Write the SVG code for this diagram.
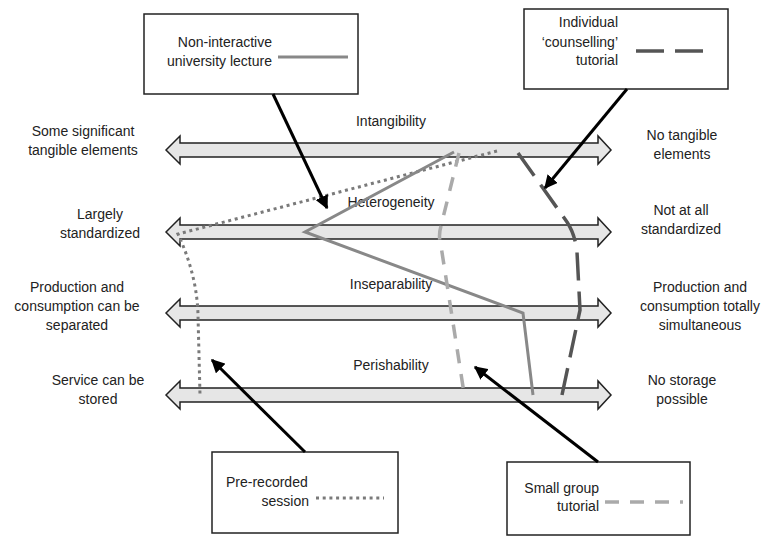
<svg xmlns="http://www.w3.org/2000/svg" width="765" height="540" viewBox="0 0 765 540">
<defs>
<style>
text{font-family:"Liberation Sans",Arial,sans-serif;font-size:14px;fill:#222}
.m{text-anchor:middle}
.e{text-anchor:end}
.box{fill:#fff;stroke:#222;stroke-width:1.5}
.scale{fill:#e6e6e6;stroke:#222;stroke-width:1.5;stroke-linejoin:miter}
.lec{fill:none;stroke:#888;stroke-width:3}
.pre{fill:none;stroke:#7a7a7a;stroke-width:3;stroke-dasharray:3 3.7}
.sg{fill:none;stroke:#aaa;stroke-width:3.5;stroke-dasharray:14 11}
.ind{fill:none;stroke:#555;stroke-width:3.5;stroke-dasharray:28 11}
.conn{fill:none;stroke:#000;stroke-width:3}
</style>
<marker id="ah" viewBox="0 0 10 10" refX="9" refY="5" markerWidth="4.5" markerHeight="4.5" orient="auto">
<path d="M0,0 L10,5 L0,10 Z" fill="#000"/>
</marker>
</defs>
<rect width="765" height="540" fill="#fff"/>

<g id="scale-intangibility">
<path class="scale" d="M166,150 L180,136 L180,143 L598,143 L598,136 L611,150 L598,164 L598,157 L180,157 L180,164 Z"/>
<text class="m" x="391" y="126">Intangibility</text>
<text class="m" x="83" y="136">Some significant</text>
<text class="m" x="83" y="155">tangible elements</text>
<text class="m" x="682" y="140">No tangible</text>
<text class="m" x="682" y="159">elements</text>
</g>
<g id="scale-heterogeneity">
<path class="scale" d="M166,232 L180,218 L180,225 L598,225 L598,218 L611,232 L598,246 L598,239 L180,239 L180,246 Z"/>
<text class="m" x="391" y="207">Heterogeneity</text>
<text class="m" x="100" y="219">Largely</text>
<text class="m" x="100" y="238">standardized</text>
<text class="m" x="681" y="215">Not at all</text>
<text class="m" x="681" y="234">standardized</text>
</g>
<g id="scale-inseparability">
<path class="scale" d="M166,313 L180,299 L180,306 L598,306 L598,299 L611,313 L598,327 L598,320 L180,320 L180,327 Z"/>
<text class="m" x="391" y="289">Inseparability</text>
<text class="m" x="77" y="292">Production and</text>
<text class="m" x="77" y="311">consumption can be</text>
<text class="m" x="77" y="330">separated</text>
<text class="m" x="700" y="292">Production and</text>
<text class="m" x="700" y="311">consumption totally</text>
<text class="m" x="700" y="330">simultaneous</text>
</g>
<g id="scale-perishability">
<path class="scale" d="M166,395 L180,381 L180,388 L598,388 L598,381 L611,395 L598,409 L598,402 L180,402 L180,409 Z"/>
<text class="m" x="391" y="370">Perishability</text>
<text class="m" x="98" y="385">Service can be</text>
<text class="m" x="98" y="404">stored</text>
<text class="m" x="682" y="385">No storage</text>
<text class="m" x="682" y="404">possible</text>
</g>

<g id="profiles">
<path class="pre" d="M497,151 L178,234 Q197,275 198,315 L200,395"/>
<path class="lec" d="M454,152 L305,232 L523,313 L533,395"/>
<path class="sg" d="M459,153 L441,226 Q438,236 441,246 L464,393"/>
<path class="ind" d="M518,153 L567,222 Q575,234 577,252 L580,310 L562,395"/>
</g>

<g id="box-lecture">
<rect class="box" x="144" y="14" width="214" height="80"/>
<text class="e" x="272" y="47">Non-interactive</text>
<text class="e" x="272" y="66">university lecture</text>
<line class="lec" x1="278" y1="57" x2="348" y2="57" stroke-width="4"/>
</g>
<g id="box-counselling">
<rect class="box" x="524" y="9" width="204" height="80"/>
<text class="e" x="618" y="27">Individual</text>
<text class="e" x="618" y="47">‘counselling’</text>
<text class="e" x="618" y="65">tutorial</text>
<line class="ind" x1="636" y1="51" x2="703" y2="51"/>
</g>
<g id="box-prerecorded">
<rect class="box" x="212" y="452" width="186" height="81"/>
<text x="226" y="487">Pre-recorded</text>
<text class="e" x="309" y="506">session</text>
<line class="pre" x1="316" y1="498" x2="384" y2="498"/>
</g>
<g id="box-smallgroup">
<rect class="box" x="507" y="462" width="183" height="73"/>
<text class="e" x="599" y="493">Small group</text>
<text class="e" x="599" y="511">tutorial</text>
<line class="sg" x1="605" y1="502" x2="683" y2="502"/>
</g>

<g id="connectors">
<line class="conn" x1="273" y1="94" x2="327" y2="208" marker-end="url(#ah)"/>
<line class="conn" x1="627" y1="89" x2="545" y2="188" marker-end="url(#ah)"/>
<line class="conn" x1="305" y1="452" x2="212" y2="360" marker-end="url(#ah)"/>
<line class="conn" x1="598" y1="462" x2="475" y2="367" marker-end="url(#ah)"/>
</g>
</svg>
